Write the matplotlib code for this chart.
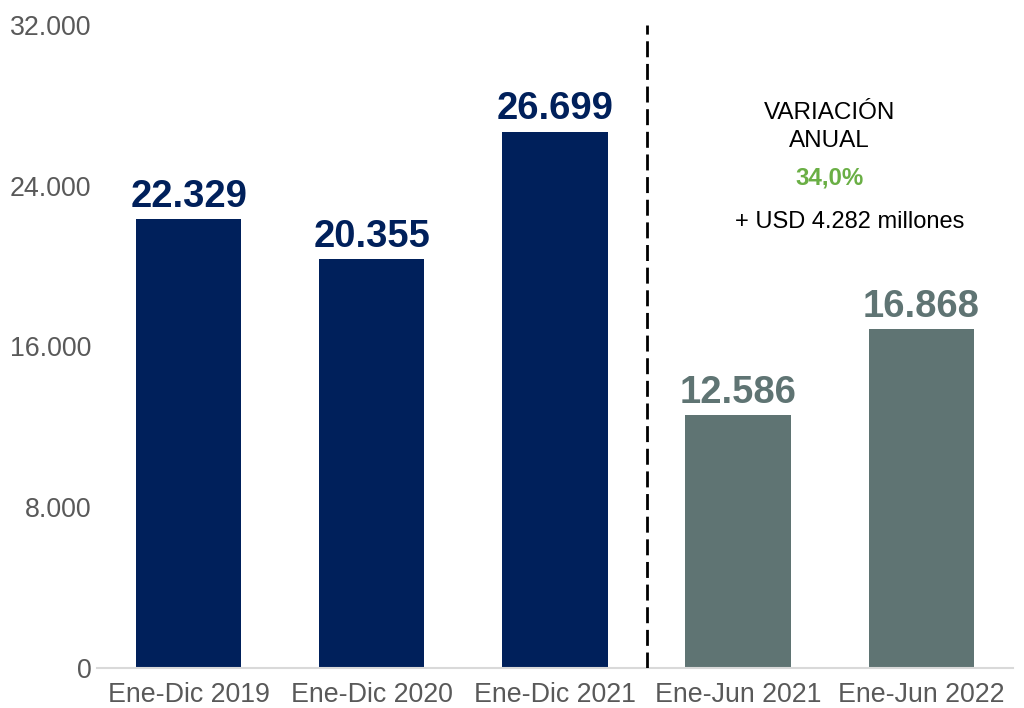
import matplotlib.pyplot as plt

periodos = ['Ene-Dic 2019', 'Ene-Dic 2020', 'Ene-Dic 2021', 'Ene-Jun 2021', 'Ene-Jun 2022']
valores = [22329, 20355, 26699, 12586, 16868]
etiquetas = ['22.329', '20.355', '26.699', '12.586', '16.868']
y_ticks = [0, 8000, 16000, 24000, 32000]
y_tick_labels = ['0', '8.000', '16.000', '24.000', '32.000']

azul = '#00205B'
gris = '#5F7473'
colores = [azul, azul, azul, gris, gris]

plt.rcParams['font.family'] = ['Liberation Sans', 'DejaVu Sans']

fig = plt.figure(figsize=(10.24, 7.08), dpi=100)
ax = fig.add_axes([0.0947, 0.0565, 0.8945, 0.9082])

x = list(range(len(periodos)))
ax.bar(x, valores, width=0.575, color=colores, zorder=2)

for xi, v, lab, c in zip(x, valores, etiquetas, colores):
    ax.annotate(lab, (xi, v), xytext=(0, 3), textcoords='offset points',
                ha='center', va='bottom', fontsize=27.5, fontweight='bold', color=c)

# separador entre años completos y semestres
ax.axvline(2.5, color='black', linestyle=(0, (5.75, 2.4)), linewidth=2.0, zorder=3)

ax.text(3.5, 27620, 'VARIACIÓN', ha='center', va='center', fontsize=17.5, color='black')
ax.text(3.5, 26226, 'ANUAL', ha='center', va='center', fontsize=17.5, color='black')
ax.text(3.5, 24385, '34,0%', ha='center', va='center', fontsize=17.3,
        fontweight='bold', color='#6AAF45')
ax.text(3.61, 22196, '+ USD 4.282 millones', ha='center', va='center', fontsize=17,
        color='black')

ax.set_xlim(-0.5, 4.5)
ax.set_ylim(0, 32000)
ax.set_xticks(x)
ax.set_xticklabels(periodos)
ax.set_yticks(y_ticks)
ax.set_yticklabels(y_tick_labels)
ax.tick_params(axis='both', length=0, labelsize=19.3, colors='#595959')
ax.tick_params(axis='x', pad=10)
ax.tick_params(axis='y', pad=4)

for s in ['top', 'right', 'left']:
    ax.spines[s].set_visible(False)
ax.spines['bottom'].set_color('#D9D9D9')
ax.spines['bottom'].set_linewidth(1.5)

fig.savefig('out.png', dpi=100)
